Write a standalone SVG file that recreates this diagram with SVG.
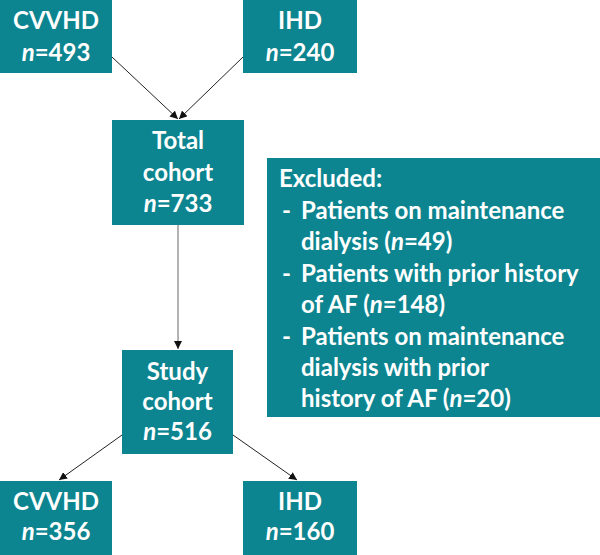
<svg xmlns="http://www.w3.org/2000/svg" width="600" height="555" viewBox="0 0 600 555">
<style>
.box{fill:#0d8590}
.t{font-family:Lato,"Liberation Sans",sans-serif;font-weight:bold;font-size:24px;fill:#fff}
.c{text-anchor:middle}
.i{font-style:italic}
.ln{stroke:#222;stroke-width:1;fill:none}
</style>
<defs>
<marker id="ah" viewBox="0 0 10 10" refX="10" refY="5" markerWidth="8" markerHeight="8" markerUnits="userSpaceOnUse" orient="auto">
<path d="M0,0 L10,5 L0,10 z" fill="#111"/>
</marker>
</defs>
<g id="connectors">
<line class="ln" x1="112" y1="57" x2="178" y2="119" marker-end="url(#ah)"/>
<line class="ln" x1="243" y1="57" x2="179" y2="119" marker-end="url(#ah)"/>
<line class="ln" x1="178" y1="225" x2="178" y2="349" stroke="#666" style="stroke:#666" marker-end="url(#ah)"/>
<line class="ln" x1="122" y1="435" x2="59" y2="480" marker-end="url(#ah)"/>
<line class="ln" x1="233" y1="435" x2="297" y2="480" marker-end="url(#ah)"/>
</g>
<g id="cvvhd-top">
<rect class="box" x="0" y="0" width="112" height="73"/>
<text class="t c" x="56" y="29">CVVHD</text>
<text class="t c" x="56" y="61"><tspan class="i">n</tspan>=493</text>
</g>
<g id="ihd-top">
<rect class="box" x="243" y="0" width="114" height="73"/>
<text class="t c" x="300" y="29">IHD</text>
<text class="t c" x="300" y="61"><tspan class="i">n</tspan>=240</text>
</g>
<g id="total">
<rect class="box" x="112" y="120" width="132" height="105"/>
<text class="t c" x="178" y="149">Total</text>
<text class="t c" x="178" y="181">cohort</text>
<text class="t c" x="178" y="212"><tspan class="i">n</tspan>=733</text>
</g>
<g id="excluded">
<rect class="box" x="267" y="158" width="333" height="259"/>
<text class="t" x="279" y="187">Excluded:</text>
<text class="t" x="282" y="219">-</text>
<text class="t" x="301" y="219">Patients on maintenance</text>
<text class="t" x="301" y="250">dialysis (<tspan class="i">n</tspan>=49)</text>
<text class="t" x="282" y="282">-</text>
<text class="t" x="301" y="282">Patients with prior history</text>
<text class="t" x="301" y="313">of AF (<tspan class="i">n</tspan>=148)</text>
<text class="t" x="282" y="345">-</text>
<text class="t" x="301" y="345">Patients on maintenance</text>
<text class="t" x="301" y="376">dialysis with prior</text>
<text class="t" x="301" y="407">history of AF (<tspan class="i">n</tspan>=20)</text>
</g>
<g id="study">
<rect class="box" x="122" y="350" width="111" height="104"/>
<text class="t c" x="177.5" y="380">Study</text>
<text class="t c" x="177.5" y="410">cohort</text>
<text class="t c" x="177.5" y="440"><tspan class="i">n</tspan>=516</text>
</g>
<g id="cvvhd-bottom">
<rect class="box" x="0" y="481" width="112" height="74"/>
<text class="t c" x="56" y="510">CVVHD</text>
<text class="t c" x="56" y="540"><tspan class="i">n</tspan>=356</text>
</g>
<g id="ihd-bottom">
<rect class="box" x="243" y="481" width="114" height="74"/>
<text class="t c" x="300" y="510">IHD</text>
<text class="t c" x="300" y="540"><tspan class="i">n</tspan>=160</text>
</g>
</svg>
